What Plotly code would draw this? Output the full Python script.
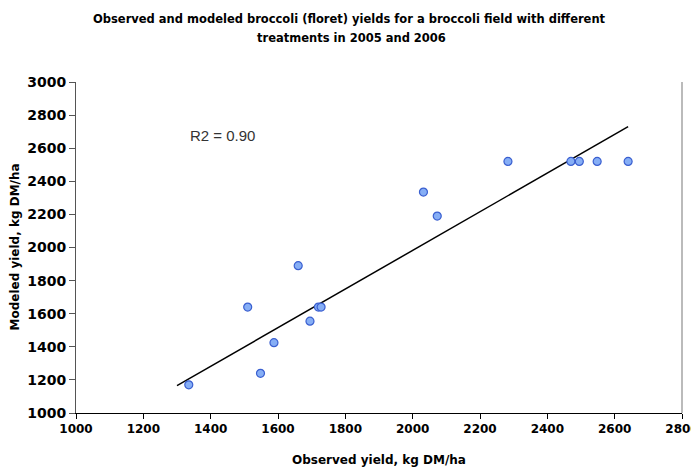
import plotly.graph_objects as go

# Data
observed = [1335, 1510, 1548, 1588, 1660, 1695, 1720, 1728, 2032, 2073, 2283, 2470, 2495, 2548, 2640]
modeled = [1170, 1640, 1240, 1425, 1890, 1555, 1640, 1640, 2335, 2190, 2520, 2520, 2520, 2520, 2520]

trend_x = [1300, 2640]
trend_y = [1165, 2730]

x_ticks = [1000, 1200, 1400, 1600, 1800, 2000, 2200, 2400, 2600, 2800]
y_ticks = [1000, 1200, 1400, 1600, 1800, 2000, 2200, 2400, 2600, 2800, 3000]

title_line1 = "Observed and modeled broccoli (floret) yields for a broccoli field with different"
title_line2 = "treatments in 2005 and 2006"
x_title = "Observed yield, kg DM/ha"
y_title = "Modeled yield, kg DM/ha"
r2_text = "R2 = 0.90"

BOLD = "DejaVu Sans, sans-serif"
PLAIN = "Liberation Sans, Arial, sans-serif"

# page has an 8px body margin; the figure starts at (8, 8)
OFF = 8
W, H = 699 - OFF, 470 - OFF
L, T = 76 - OFF, 82 - OFF
R, B = 699 - 682, 470 - 413
PW, PH = W - L - R, H - T - B

fig = go.Figure()

fig.add_trace(go.Scatter(
    x=trend_x, y=trend_y, mode="lines",
    line=dict(color="black", width=1.5),
    showlegend=False, hoverinfo="skip",
))

fig.add_trace(go.Scatter(
    x=observed, y=modeled, mode="markers",
    marker=dict(size=8, color="#86AEF5", line=dict(color="#3A5FD0", width=1.2)),
    showlegend=False,
))

fig.update_layout(
    width=W, height=H,
    margin=dict(l=L, r=R, t=T, b=B),
    paper_bgcolor="white", plot_bgcolor="white",
    font=dict(family=BOLD, color="black"),
    xaxis=dict(
        range=[1000, 2800], tickvals=x_ticks, ticktext=[str(v) for v in x_ticks],
        showgrid=False, zeroline=False, automargin=False,
        showline=True, linecolor="black", linewidth=1,
        ticks="outside", ticklen=5, tickcolor="black",
        tickfont=dict(size=12, family=BOLD, weight="bold", color="black"),
    ),
    yaxis=dict(
        range=[1000, 3000], tickvals=y_ticks, ticktext=[str(v) for v in y_ticks],
        showgrid=False, zeroline=False, automargin=False,
        showline=True, linecolor="#555555", linewidth=1,
        ticks="outside", ticklen=6, tickcolor="#555555",
        tickfont=dict(size=14, family=BOLD, weight="bold", color="black"),
    ),
)

def px_to_paper_x(px):
    # px in page coordinates
    return (px - OFF - L) / PW

def px_to_paper_y(py):
    return (H - B - (py - OFF)) / PH

title_font = dict(size=11.5, family=BOLD, weight="bold", color="black")

# title lines
fig.add_annotation(text=title_line1, xref="paper", yref="paper",
                   x=px_to_paper_x(349), y=px_to_paper_y(19),
                   xanchor="center", yanchor="middle", showarrow=False, font=title_font)
fig.add_annotation(text=title_line2, xref="paper", yref="paper",
                   x=px_to_paper_x(351), y=px_to_paper_y(38),
                   xanchor="center", yanchor="middle", showarrow=False, font=title_font)

# axis titles
axis_font = dict(size=12, family=BOLD, weight="bold", color="black")
fig.add_annotation(text=x_title, xref="paper", yref="paper",
                   x=0.5, y=px_to_paper_y(460),
                   xanchor="center", yanchor="middle", showarrow=False, font=axis_font)
fig.add_annotation(text=y_title, xref="paper", yref="paper",
                   x=px_to_paper_x(14), y=0.5, textangle=-90,
                   xanchor="center", yanchor="middle", showarrow=False, font=axis_font)

# R2 label
fig.add_annotation(
    text=r2_text, x=1334, y=2675, xref="x", yref="y",
    xanchor="left", yanchor="middle", showarrow=False,
    font=dict(size=15, family=PLAIN, color="#333333"),
)

# right frame line
fig.add_shape(type="line", xref="paper", yref="paper", x0=1, x1=1, y0=0, y1=1,
              line=dict(color="#BBBBBB", width=2))

fig.write_html("out.html")
